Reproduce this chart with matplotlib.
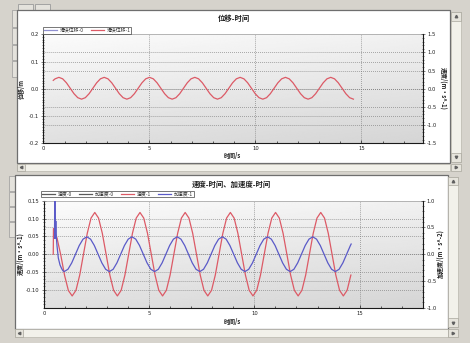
import numpy as np
import matplotlib
matplotlib.use('Agg')
import matplotlib.pyplot as plt
from matplotlib.patches import Rectangle
from matplotlib.lines import Line2D
from matplotlib.ticker import MultipleLocator, FormatStrFormatter

plt.rcParams['font.family'] = ['Noto Sans CJK SC', 'DejaVu Sans']
plt.rcParams['axes.unicode_minus'] = False

# ---------------- data ----------------
top_title = '位移-时间'
bot_title = '速度-时间、加速度-时间'
x_label = '时间/s'
top_ylabel_left = '位移/m'
top_ylabel_right = '速度/(m·s^-1)'
bot_ylabel_left = '速度/(m·s^-1)'
bot_ylabel_right = '加速度/(m·s^-2)'
top_legend = ['滑块位移-0', '滑块位移-1']
bot_legend = ['速度-0', '加速度-0', '速度-1', '加速度-1']
x_ticks = [0, 5, 10, 15]
top_left_ticks = [-0.2, -0.1, 0.0, 0.1, 0.2]
top_right_ticks = [-1.5, -1.0, -0.5, 0.0, 0.5, 1.0, 1.5]
bot_left_ticks = [-0.10, -0.05, 0.00, 0.05, 0.10, 0.15]
bot_right_ticks = [-1.0, -0.5, 0.0, 0.5, 1.0]

# displacement of slider 1 (m)
disp_t = [0.47, 0.557,
          0.735, 0.913, 1.091, 1.269, 1.447, 1.625, 1.803, 1.981, 2.159, 2.337, 2.515, 2.693,
          2.871, 3.049, 3.227, 3.405, 3.583, 3.761, 3.939, 4.117, 4.295, 4.473, 4.651, 4.829,
          5.007, 5.185, 5.363, 5.541, 5.719, 5.897, 6.075, 6.253, 6.431, 6.609, 6.787, 6.965,
          7.143, 7.321, 7.499, 7.677, 7.855, 8.033, 8.211, 8.389, 8.567, 8.745, 8.923, 9.101,
          9.279, 9.457, 9.635, 9.813, 9.991, 10.169, 10.347, 10.525, 10.703, 10.881, 11.059, 11.237,
          11.415, 11.593, 11.771, 11.949, 12.127, 12.305, 12.483, 12.661, 12.839, 13.017, 13.195, 13.373,
          13.551, 13.729, 13.907, 14.085, 14.263, 14.441, 14.619]
disp_v = [0.031, 0.0366,
          0.042, 0.0366, 0.022, 0.002, -0.018, -0.0326, -0.038, -0.0326, -0.018, 0.002, 0.022, 0.0366,
          0.042, 0.0366, 0.022, 0.002, -0.018, -0.0326, -0.038, -0.0326, -0.018, 0.002, 0.022, 0.0366,
          0.042, 0.0366, 0.022, 0.002, -0.018, -0.0326, -0.038, -0.0326, -0.018, 0.002, 0.022, 0.0366,
          0.042, 0.0366, 0.022, 0.002, -0.018, -0.0326, -0.038, -0.0326, -0.018, 0.002, 0.022, 0.0366,
          0.042, 0.0366, 0.022, 0.002, -0.018, -0.0326, -0.038, -0.0326, -0.018, 0.002, 0.022, 0.0366,
          0.042, 0.0366, 0.022, 0.002, -0.018, -0.0326, -0.038, -0.0326, -0.018, 0.002, 0.022, 0.0366,
          0.042, 0.0366, 0.022, 0.002, -0.018, -0.0326, -0.038]

# velocity of slider 1 (m/s), left axis
vel_t = [0.44, 0.45, 0.62, 0.80, 0.98, 1.16,
         1.340, 1.519, 1.698, 1.877, 2.056, 2.235, 2.414, 2.593, 2.772, 2.951, 3.130, 3.309,
         3.488, 3.667, 3.846, 4.025, 4.204, 4.383, 4.562, 4.741, 4.920, 5.099, 5.278, 5.457,
         5.636, 5.815, 5.994, 6.173, 6.352, 6.531, 6.710, 6.889, 7.068, 7.247, 7.426, 7.605,
         7.784, 7.963, 8.142, 8.321, 8.500, 8.679, 8.858, 9.037, 9.216, 9.395, 9.574, 9.753,
         9.932, 10.111, 10.290, 10.469, 10.648, 10.827, 11.006, 11.185, 11.364, 11.543, 11.722, 11.901,
         12.080, 12.259, 12.438, 12.617, 12.796, 12.975, 13.154, 13.333, 13.512, 13.691, 13.870, 14.049,
         14.228, 14.407, 14.586]
vel_v = [0.0, 0.072, 0.045, -0.003, -0.06, -0.102,
         -0.117, -0.1013, -0.0585, 0.0, 0.0585, 0.1013, 0.117, 0.1013, 0.0585, 0.0, -0.0585, -0.1013,
         -0.117, -0.1013, -0.0585, 0.0, 0.0585, 0.1013, 0.117, 0.1013, 0.0585, 0.0, -0.0585, -0.1013,
         -0.117, -0.1013, -0.0585, 0.0, 0.0585, 0.1013, 0.117, 0.1013, 0.0585, 0.0, -0.0585, -0.1013,
         -0.117, -0.1013, -0.0585, 0.0, 0.0585, 0.1013, 0.117, 0.1013, 0.0585, 0.0, -0.0585, -0.1013,
         -0.117, -0.1013, -0.0585, 0.0, 0.0585, 0.1013, 0.117, 0.1013, 0.0585, 0.0, -0.0585, -0.1013,
         -0.117, -0.1013, -0.0585, 0.0, 0.0585, 0.1013, 0.117, 0.1013, 0.0585, 0.0, -0.0585, -0.1013,
         -0.117, -0.1013, -0.0585]

# acceleration of slider 1 (m/s^2), right axis
acc_t = [0.50, 0.515, 0.535, 0.56, 0.59, 0.62, 0.68, 0.76, 0.84, 0.90,
         0.960, 1.139, 1.318, 1.497, 1.676, 1.855, 2.034, 2.213, 2.392, 2.571, 2.750, 2.929,
         3.108, 3.287, 3.466, 3.645, 3.824, 4.003, 4.182, 4.361, 4.540, 4.719, 4.898, 5.077,
         5.256, 5.435, 5.614, 5.793, 5.972, 6.151, 6.330, 6.509, 6.688, 6.867, 7.046, 7.225,
         7.404, 7.583, 7.762, 7.941, 8.120, 8.299, 8.478, 8.657, 8.836, 9.015, 9.194, 9.373,
         9.552, 9.731, 9.910, 10.089, 10.268, 10.447, 10.626, 10.805, 10.984, 11.163, 11.342, 11.521,
         11.700, 11.879, 12.058, 12.237, 12.416, 12.595, 12.774, 12.953, 13.132, 13.311, 13.490, 13.669,
         13.848, 14.027, 14.206, 14.385, 14.564, 14.60]
acc_v = [0.30, 1.50, 0.30, 0.62, 0.30, 0.15, -0.07, -0.20, -0.27, -0.31,
         -0.325, -0.2815, -0.1625, 0.0, 0.1625, 0.2815, 0.325, 0.2815, 0.1625, 0.0, -0.1625, -0.2815,
         -0.325, -0.2815, -0.1625, 0.0, 0.1625, 0.2815, 0.325, 0.2815, 0.1625, 0.0, -0.1625, -0.2815,
         -0.325, -0.2815, -0.1625, 0.0, 0.1625, 0.2815, 0.325, 0.2815, 0.1625, 0.0, -0.1625, -0.2815,
         -0.325, -0.2815, -0.1625, 0.0, 0.1625, 0.2815, 0.325, 0.2815, 0.1625, 0.0, -0.1625, -0.2815,
         -0.325, -0.2815, -0.1625, 0.0, 0.1625, 0.2815, 0.325, 0.2815, 0.1625, 0.0, -0.1625, -0.2815,
         -0.325, -0.2815, -0.1625, 0.0, 0.1625, 0.2815, 0.325, 0.2815, 0.1625, 0.0, -0.1625, -0.2815,
         -0.325, -0.2815, -0.1625, 0.0, 0.1625, 0.19]

# ---------------- styling ----------------
W, H = 470, 343
BG = '#d6d3cc'
RED = '#dc5a66'
BLUE = '#5a5ac8'
LAV = '#9090d0'
GREY = '#5a5a5a'
TXT = '#202020'
FS_TICK = 3.8
FS_LAB = 4.3

fig = plt.figure(figsize=(W / 100, H / 100), dpi=100, facecolor=BG)


def frect(x0, y0, x1, y1):
    return (x0 / W, 1 - y1 / H), (x1 - x0) / W, (y1 - y0) / H


def box(x0, y0, x1, y1, fc, ec, lw=0.6, z=0):
    xy, w, h = frect(x0, y0, x1, y1)
    fig.add_artist(Rectangle(xy, w, h, transform=fig.transFigure, facecolor=fc,
                             edgecolor=ec, lw=lw, zorder=z))


def tri(x, y, m):
    fig.add_artist(Line2D([x / W], [1 - y / H], marker=m, ms=1.8, color='#606060',
                          transform=fig.transFigure, lw=0))


# window chrome
box(18, 4, 33, 9.5, '#e4e2dc', '#9a9a9a')
box(35, 4, 50, 9.5, '#e4e2dc', '#9a9a9a')
for (a, b) in [(10, 27), (28, 44), (45, 60), (61, 77)]:
    box(12, a, 17, b, '#e4e2dc', '#9a9a9a', 0.5)
for (a, b) in [(176, 191), (192, 206), (207, 221), (222, 237)]:
    box(9, a, 15, b, '#e4e2dc', '#9a9a9a', 0.5)
# panels
box(17, 10, 450, 163, 'white', '#6e6e6e', 0.9)
box(15, 175, 447.5, 328.5, 'white', '#6e6e6e', 0.9)
# scrollbars (top panel)
box(451, 11.5, 460.5, 162, '#f2f1ea', '#b8b6ac', 0.5)
box(451, 11.5, 460.5, 20.5, '#e6e4dc', '#a8a69c', 0.5); tri(455.7, 16, '^')
box(451, 153, 460.5, 162, '#e6e4dc', '#a8a69c', 0.5); tri(455.7, 157.5, 'v')
box(17, 163.5, 450, 170.5, '#f2f1ea', '#b8b6ac', 0.5)
box(17, 163.5, 25, 170.5, '#e6e4dc', '#a8a69c', 0.5); tri(21, 167, '<')
box(451, 163.5, 460.5, 170.5, '#e6e4dc', '#a8a69c', 0.5); tri(455.7, 167, '>')
# scrollbars (bottom panel)
box(448.3, 176.5, 457.7, 327, '#f2f1ea', '#b8b6ac', 0.5)
box(448.3, 176.5, 457.7, 185, '#e6e4dc', '#a8a69c', 0.5); tri(453, 181, '^')
box(448.3, 318, 457.7, 327, '#e6e4dc', '#a8a69c', 0.5); tri(453, 322.5, 'v')
box(15, 329.3, 447.5, 336.7, '#f2f1ea', '#b8b6ac', 0.5)
box(15, 329.3, 23, 336.7, '#e6e4dc', '#a8a69c', 0.5); tri(19, 333, '<')
box(448.3, 329.3, 457.7, 336.7, '#e6e4dc', '#a8a69c', 0.5); tri(453, 333, '>')


def make_axes(x0, y0, x1, y1):
    xy, w, h = frect(x0, y0, x1, y1)
    ax = fig.add_axes([xy[0], xy[1], w, h])
    gy, gx = np.mgrid[0:1:120j, 0:1:120j]
    grad = 0.985 - 0.15 * (0.72 * gy + 0.28 * gx)
    ax.imshow(grad, cmap='gray', vmin=0, vmax=1, extent=(0, 1, 0, 1),
              transform=ax.transAxes, aspect='auto', zorder=-5, interpolation='bilinear')
    axr = ax.twinx()
    for s in ['left', 'bottom']:
        ax.spines[s].set_color('#1a1a1a'); ax.spines[s].set_linewidth(0.8)
    ax.spines['top'].set_color('#9a9a9a'); ax.spines['top'].set_linewidth(0.5)
    ax.spines['right'].set_visible(False)
    for s in ['left', 'bottom', 'top']:
        axr.spines[s].set_visible(False)
    axr.spines['right'].set_color('#1a1a1a'); axr.spines['right'].set_linewidth(0.8)
    ax.tick_params(axis='x', which='both', direction='in', labelsize=FS_TICK, colors=TXT,
                   width=0.5, pad=2.2)
    ax.tick_params(axis='x', which='major', length=2.5)
    ax.tick_params(axis='x', which='minor', length=1.8)
    for a in (ax, axr):
        a.tick_params(axis='y', which='both', direction='inout', labelsize=FS_TICK,
                      colors=TXT, width=0.4, pad=1.5)
        a.tick_params(axis='y', which='major', length=3.0)
        a.tick_params(axis='y', which='minor', length=1.6)
    ax.xaxis.set_minor_locator(MultipleLocator(1))
    return ax, axr


def finish(ax, axr, xmax, ylim_l, ylim_r, lticks, rticks, lfmt, lminor, rminor):
    ax.set_xlim(0, xmax)
    ax.set_xticks(x_ticks)
    ax.set_ylim(*ylim_l)
    ax.set_yticks(lticks)
    ax.yaxis.set_major_formatter(FormatStrFormatter(lfmt))
    ax.yaxis.set_minor_locator(MultipleLocator(lminor))
    axr.set_ylim(*ylim_r)
    axr.set_yticks(rticks)
    axr.yaxis.set_major_formatter(FormatStrFormatter('%.1f'))
    axr.yaxis.set_minor_locator(MultipleLocator(rminor))
    for a in (ax, axr):
        for lab in a.get_xticklabels() + a.get_yticklabels():
            lab.set_fontfamily('DejaVu Sans')
    gkw = dict(color='#7a7a7a', lw=0.55, ls=(0, (1, 1.6)), zorder=-1)
    for v in x_ticks[1:]:
        ax.axvline(v, **gkw)
    for v in lticks:
        if ylim_l[0] < v < ylim_l[1]:
            ax.axhline(v, **gkw)
    # right-axis grid, mapped into left-axis units
    for v in rticks:
        if ylim_r[0] < v < ylim_r[1]:
            f = (v - ylim_r[0]) / (ylim_r[1] - ylim_r[0])
            ax.axhline(ylim_l[0] + f * (ylim_l[1] - ylim_l[0]), **gkw)


# ---------------- top chart ----------------
ax1, ax1r = make_axes(43.3, 34.3, 423, 143.3)
ax1.plot([], [], color=LAV, lw=0.9, label=top_legend[0])
ax1.plot(disp_t, disp_v, color=RED, lw=0.9, label=top_legend[1])
finish(ax1, ax1r, 17.9, (-0.2, 0.2), (-1.5, 1.5), top_left_ticks, top_right_ticks,
       '%.1f', 0.01, 0.1)

# ---------------- bottom chart ----------------
ax2, ax2r = make_axes(44, 200.7, 422.7, 307.7)
h0 = ax2.plot([], [], color=GREY, lw=0.9)[0]
h1 = ax2.plot([], [], color=GREY, lw=0.9)[0]
h2 = ax2.plot(vel_t, vel_v, color=RED, lw=0.9)[0]
h3 = ax2r.plot(acc_t, acc_v, color=BLUE, lw=0.9)[0]
finish(ax2, ax2r, 18.0, (-0.15, 0.15), (-1.0, 1.0), bot_left_ticks, bot_right_ticks,
       '%.2f', 0.01, 0.1)

# ---------------- legends ----------------
leg_kw = dict(loc='upper left', bbox_transform=fig.transFigure, borderaxespad=0,
              frameon=True, fancybox=False, prop={'size': 3.5}, handlelength=2.7,
              handletextpad=0.5, columnspacing=1.5, borderpad=0.2, labelspacing=0)
l1 = ax1.legend(ncol=2, bbox_to_anchor=(43 / W, 1 - 26.8 / H), **leg_kw)
l2 = ax2.legend([h0, h1, h2, h3], bot_legend, ncol=4,
                bbox_to_anchor=(41 / W, 1 - 190.5 / H), **leg_kw)
for lg in (l1, l2):
    lg.get_frame().set_edgecolor('#3a3a3a')
    lg.get_frame().set_linewidth(0.6)
    for t in lg.get_texts():
        t.set_color('#303030')

# ---------------- texts ----------------
def ft(x, y, s, **kw):
    fig.text(x / W, 1 - y / H, s, ha='center', va='center', color=TXT, **kw)

ft(234, 18.2, top_title, fontsize=5.3, fontweight='bold')
ft(231, 184, bot_title, fontsize=5.3, fontweight='bold')
ft(232, 155.5, x_label, fontsize=FS_LAB, fontweight='bold')
ft(232, 321.5, x_label, fontsize=FS_LAB, fontweight='bold')
ft(21.5, 88.8, top_ylabel_left, fontsize=FS_LAB, fontweight='bold', rotation=90)
ft(443.5, 88.8, top_ylabel_right, fontsize=FS_LAB, fontweight='bold', rotation=270)
ft(20.5, 254, bot_ylabel_left, fontsize=FS_LAB, fontweight='bold', rotation=90)
ft(440, 254, bot_ylabel_right, fontsize=FS_LAB, fontweight='bold', rotation=90)

fig.savefig('out.png', dpi=100, facecolor=BG)
